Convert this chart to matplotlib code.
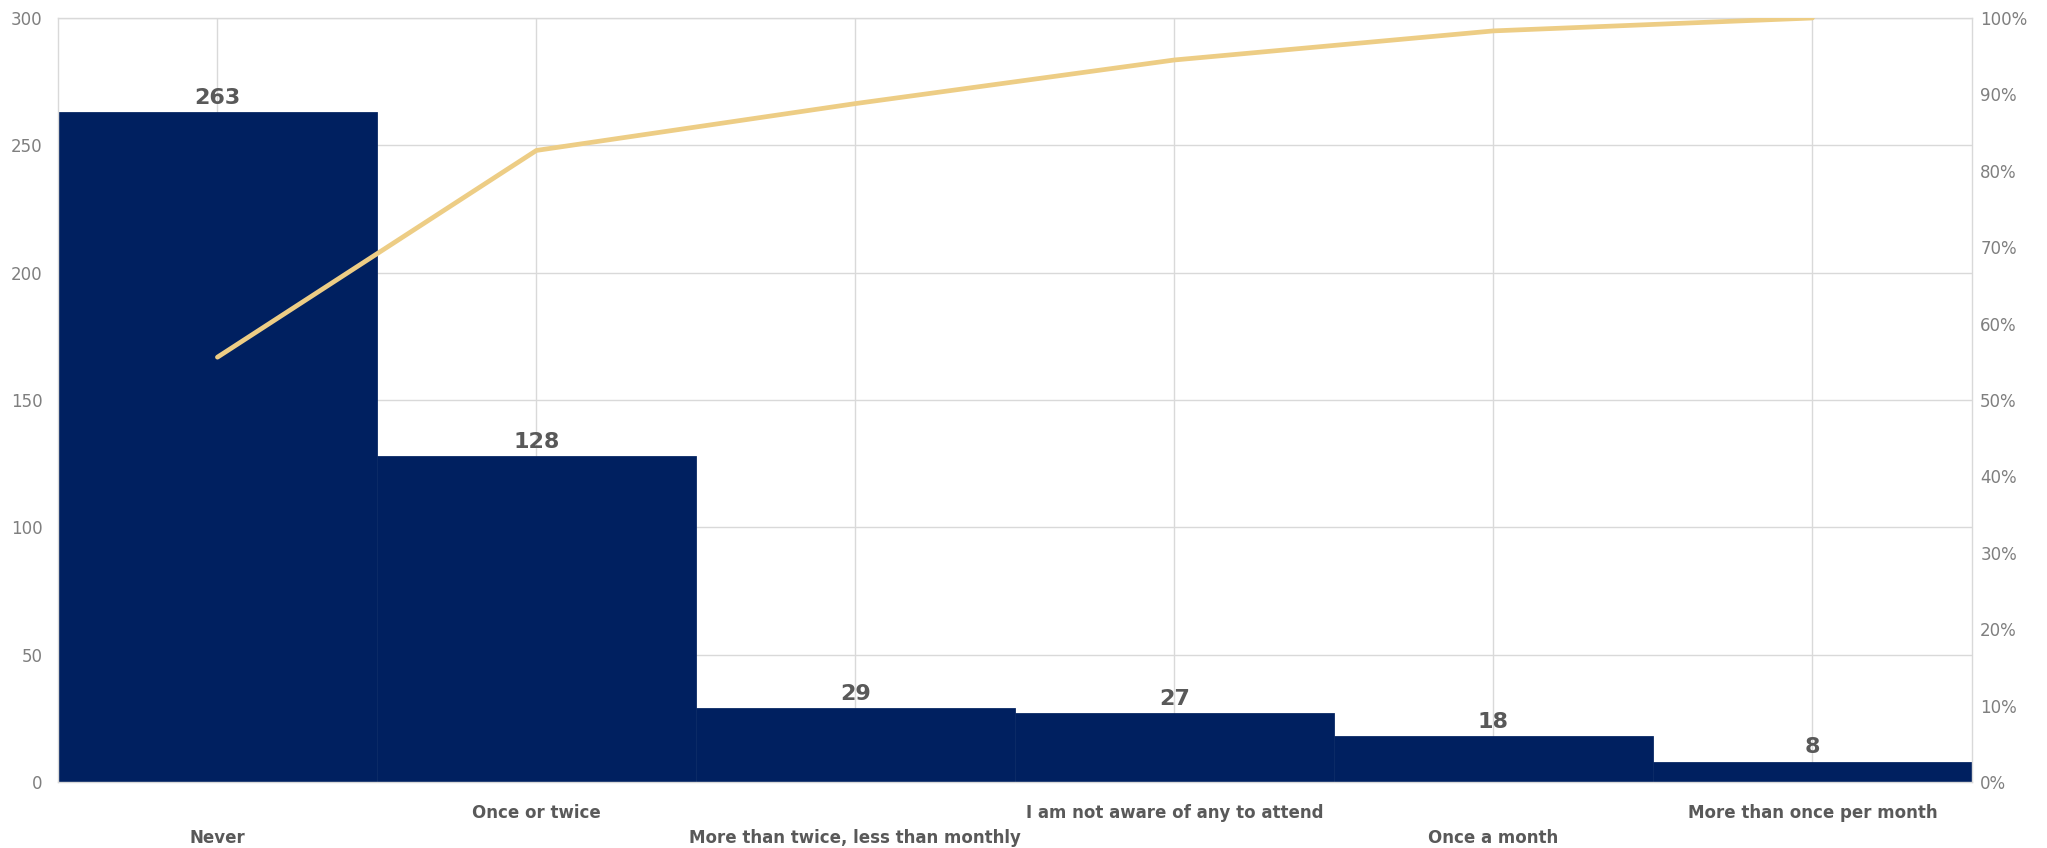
import matplotlib
matplotlib.use("Agg")
import matplotlib.pyplot as plt
import matplotlib.transforms as mtransforms
from matplotlib.ticker import MultipleLocator, PercentFormatter
import numpy as np

categories = ["Never", "Once or twice", "More than twice, less than monthly",
              "I am not aware of any to attend", "Once a month", "More than once per month"]
counts = [263, 128, 29, 27, 18, 8]

cum_share = np.cumsum(counts) / np.sum(counts)

BAR = "#002060"
LINE = "#EDCD85"
GRID = "#D9D9D9"
TICK = "#7F7F7F"
LABEL = "#595959"

plt.rcParams["font.family"] = ["DejaVu Sans"]

fig = plt.figure(figsize=(20.47, 8.48), dpi=100)
ax = fig.add_axes([0.0283, 0.0778, 0.935, 0.901])

x = np.arange(len(categories))
ax.bar(x, counts, width=1.0, color=BAR, edgecolor="#0b2a66", linewidth=0.6, zorder=2)
ax.set_xlim(-0.5, len(categories) - 0.5)
ax.set_ylim(0, 300)
ax.yaxis.set_major_locator(MultipleLocator(50))

ax.grid(True, color=GRID, linewidth=1.0, zorder=0)
ax.set_axisbelow(True)
for s in ax.spines.values():
    s.set_color(GRID)
    s.set_linewidth(1.0)

for xi, v in zip(x, counts):
    ax.annotate(str(v), (xi, v), xytext=(0, 3), textcoords="offset points",
                ha="center", va="bottom", fontsize=16, fontweight="bold", color=LABEL)

ax.set_xticks(x)
ax.set_xticklabels(categories, fontsize=12, fontweight="bold", color=LABEL)
ax.tick_params(axis="x", length=0, pad=16)
ax.tick_params(axis="y", length=0, pad=11, labelsize=12, labelcolor=TICK)
for i, lab in enumerate(ax.get_xticklabels()):
    if i % 2 == 0:
        lab.set_transform(lab.get_transform() +
                          mtransforms.ScaledTranslation(0, -25 / 100, fig.dpi_scale_trans))

ax2 = ax.twinx()
ax2.plot(x, cum_share, color=LINE, linewidth=3.4, solid_capstyle="round", zorder=3)
ax2.set_ylim(0, 1)
ax2.yaxis.set_major_locator(MultipleLocator(0.1))
ax2.yaxis.set_major_formatter(PercentFormatter(1.0, decimals=0))
ax2.tick_params(axis="y", length=0, pad=6, labelsize=12, labelcolor=TICK)
for s in ax2.spines.values():
    s.set_visible(False)

fig.savefig("out.png", dpi=100, facecolor="white")
